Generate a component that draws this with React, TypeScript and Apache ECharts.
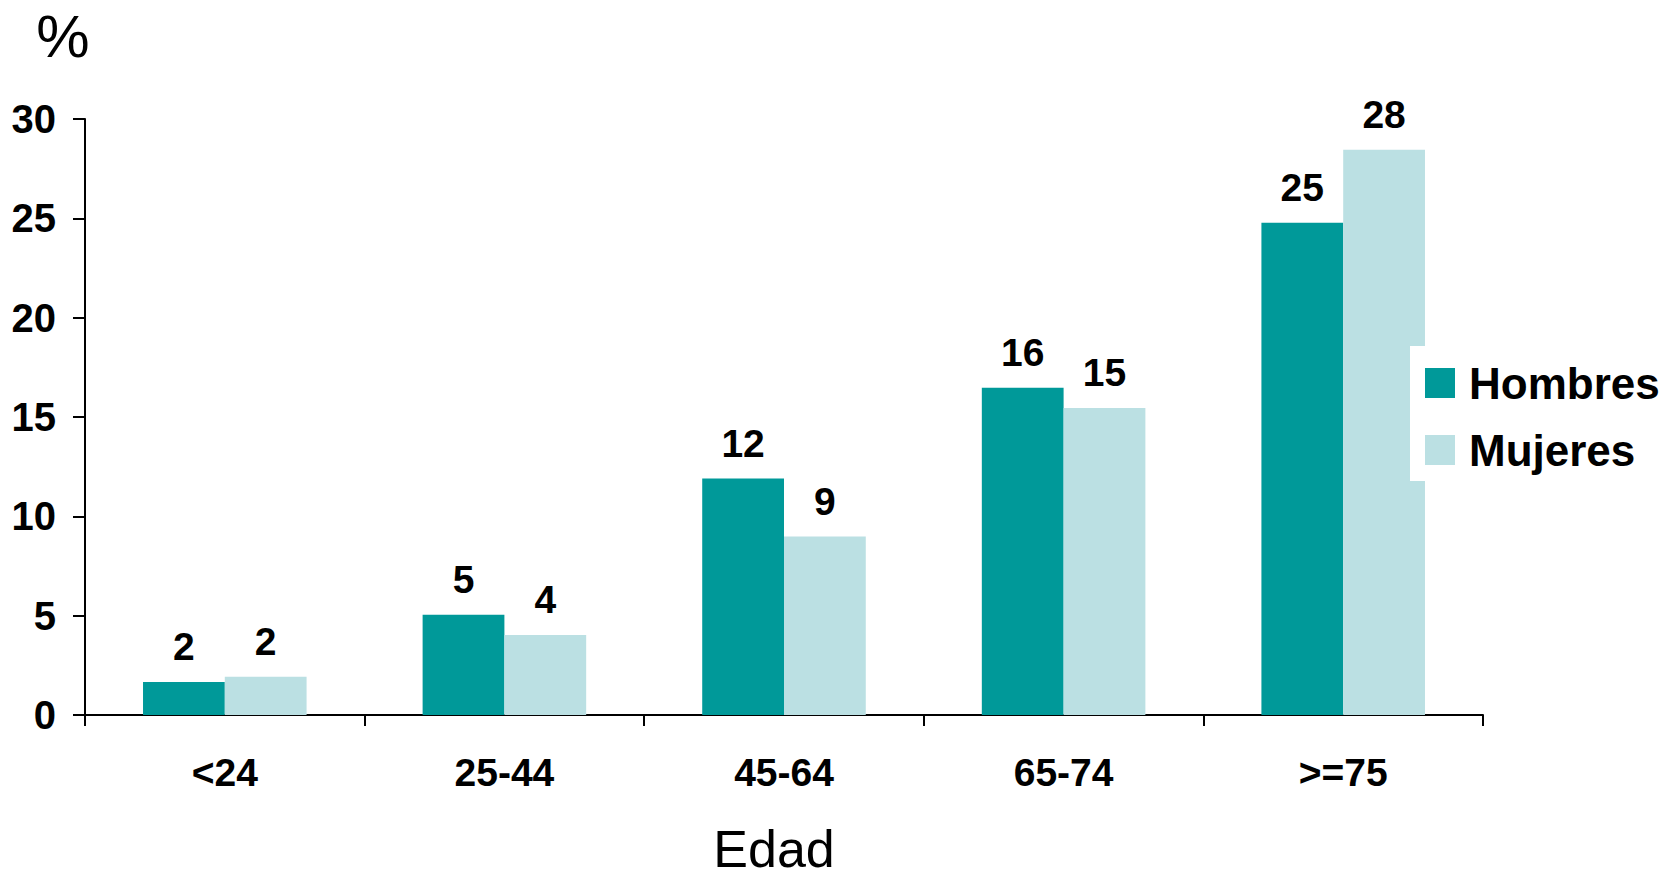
import React, { useEffect, useRef } from "react";
import * as echarts from "echarts";

const categories = ["<24", "25-44", "45-64", "65-74", ">=75"];
const hombres = [1.66, 5.05, 11.9, 16.47, 24.78];
const mujeres = [1.93, 4.03, 8.98, 15.45, 28.45];
const seriesNames = ["Hombres", "Mujeres"];
const yTicks = { min: 0, max: 30, interval: 5 };
const yAxisName = "%";
const xAxisName = "Edad";

const FONT = "'Liberation Sans', Arial, sans-serif";

export default function App() {
  const ref = useRef<HTMLDivElement>(null);

  useEffect(() => {
    if (!ref.current) return;
    const chart = echarts.init(ref.current, undefined, { renderer: "svg" });
    const labelStyle = {
      show: true,
      position: "top" as const,
      distance: 16,
      fontFamily: FONT,
      fontWeight: "bold" as const,
      fontSize: 39,
      color: "#000",
      formatter: (p: any) => String(Math.round(p.value)),
    };
    chart.setOption({
      animation: false,
      backgroundColor: "#fff",
      textStyle: { fontFamily: FONT },
      grid: {
        left: 85,
        right: 196,
        top: 119,
        bottom: 164,
        containLabel: false,
        outerBoundsMode: "none",
      },
      legend: {
        orient: "vertical",
        left: 1410,
        top: 346,
        z: 10,
        backgroundColor: "#fff",
        padding: [15, 12, 9, 15],
        itemGap: 23,
        itemWidth: 30,
        itemHeight: 30,
        icon: "rect",
        textStyle: {
          fontFamily: FONT,
          fontWeight: "bold",
          fontSize: 44,
          color: "#000",
          padding: [0, 0, 0, 9],
        },
        data: seriesNames,
      },
      xAxis: {
        type: "category",
        data: categories,
        name: xAxisName,
        nameLocation: "middle",
        nameGap: 114,
        nameTextStyle: {
          fontFamily: FONT,
          fontSize: 52,
          lineHeight: 40,
          color: "#000",
          padding: [0, 20, 0, 0],
        },
        axisLine: { lineStyle: { color: "#000", width: 2 } },
        axisTick: { show: true, length: 11, lineStyle: { color: "#000", width: 2 } },
        axisLabel: {
          margin: 38,
          fontFamily: FONT,
          fontWeight: "bold",
          fontSize: 39,
          color: "#000",
        },
        splitLine: { show: false },
      },
      yAxis: {
        type: "value",
        min: yTicks.min,
        max: yTicks.max,
        interval: yTicks.interval,
        name: yAxisName,
        nameLocation: "end",
        nameGap: 53,
        nameTextStyle: { fontFamily: FONT, fontSize: 60, color: "#000", padding: [0, 44, 0, 0] },
        axisLine: { show: true, lineStyle: { color: "#000", width: 2 } },
        axisTick: { show: true, length: 12, lineStyle: { color: "#000", width: 2 } },
        axisLabel: {
          margin: 29,
          fontFamily: FONT,
          fontWeight: "bold",
          fontSize: 40,
          color: "#000",
        },
        splitLine: { show: false },
      },
      series: [
        {
          name: seriesNames[0],
          type: "bar",
          data: hombres,
          barGap: "0%",
          barCategoryGap: "41.5%",
          itemStyle: { color: "#009999" },
          label: labelStyle,
        },
        {
          name: seriesNames[1],
          type: "bar",
          data: mujeres,
          barGap: "0%",
          barCategoryGap: "41.5%",
          itemStyle: { color: "#BBE0E3" },
          label: labelStyle,
        },
      ],
    });
    return () => chart.dispose();
  }, []);

  return (
    <div
      ref={ref}
      style={{ position: "absolute", left: 0, top: 0, width: 1679, height: 879 }}
    />
  );
}
